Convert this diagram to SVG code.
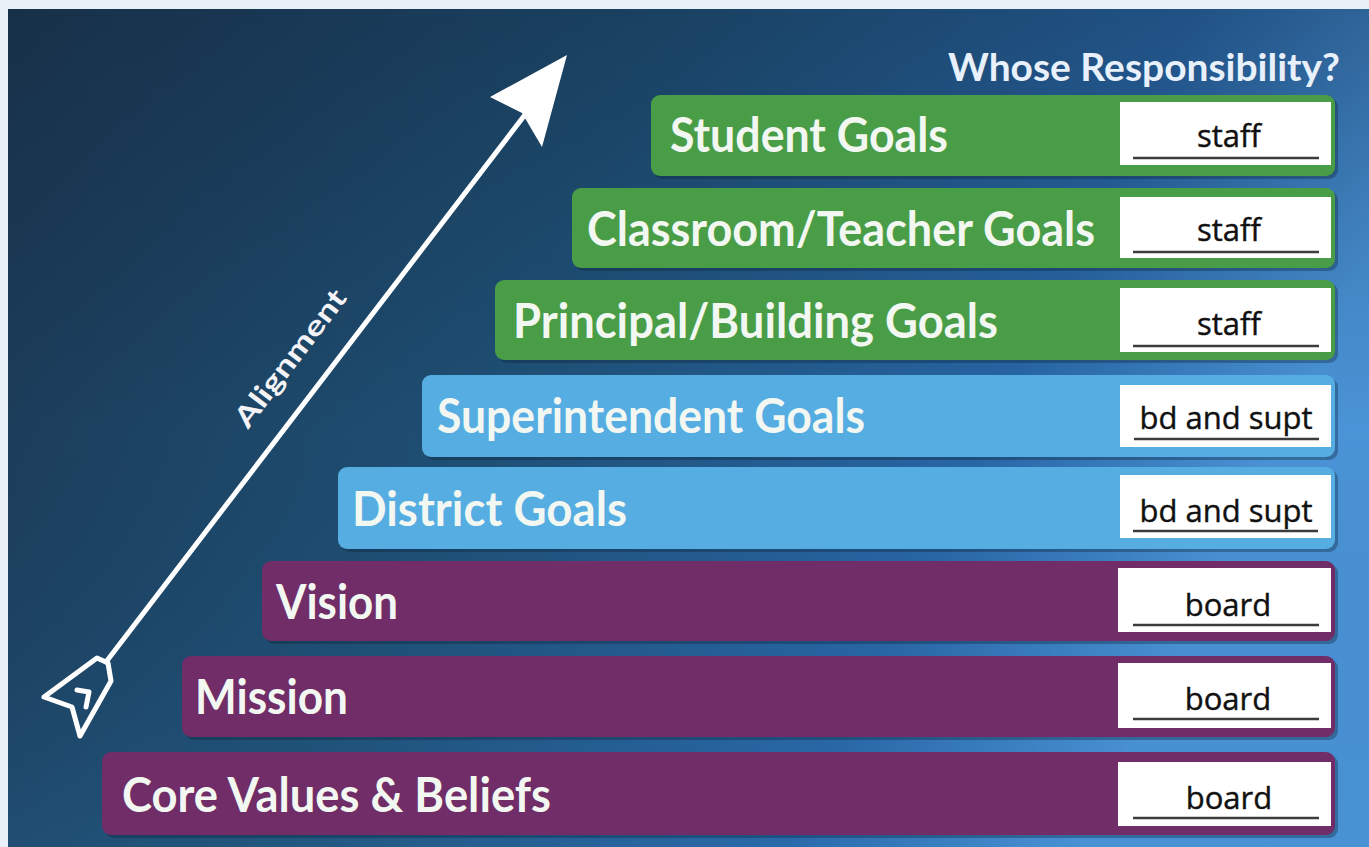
<svg xmlns="http://www.w3.org/2000/svg" width="1369" height="847" viewBox="0 0 1369 847">
<defs>
<linearGradient id="bg" x1="0" y1="0" x2="1" y2="0.3">
<stop offset="0" stop-color="#1b3650"/>
<stop offset="0.45" stop-color="#1e4f74"/>
<stop offset="0.8" stop-color="#2866a6"/>
<stop offset="1" stop-color="#4a93d6"/>
</linearGradient>
<linearGradient id="bgv" x1="0" y1="0" x2="0" y2="1">
<stop offset="0" stop-color="#0f2238" stop-opacity="0.3"/>
<stop offset="0.5" stop-color="#0f2238" stop-opacity="0"/>
<stop offset="1" stop-color="#3a8ac8" stop-opacity="0.12"/>
</linearGradient>
<style>
.green{fill:#4a9d47}
.blue{fill:#55ade2}
.purple{fill:#702d67}
.shadow{fill:#0d2236;opacity:0.35}
.box{fill:#ffffff}
.ul{stroke:#3c3c3c;stroke-width:2.5}
.lbl{font-family:Lato,"Open Sans",sans-serif;font-weight:bold;font-size:47px;fill:#f2f7f2}
.resp{font-family:"Open Sans","Liberation Sans",sans-serif;font-size:31px;fill:#111111;text-anchor:middle;stroke:#111111;stroke-width:0.4}
.hdr{font-family:Lato,"Open Sans",sans-serif;font-weight:bold;font-size:38px;fill:#e8f0fb}
.arrow{stroke:#ffffff;stroke-width:5;fill:none;stroke-linejoin:round;stroke-linecap:round}
</style>
</defs>
<rect x="0" y="0" width="1369" height="847" fill="#e9f1f8"/>
<rect x="8" y="9" width="1361" height="838" fill="url(#bg)"/>
<rect x="8" y="9" width="1361" height="838" fill="url(#bgv)"/>

<text class="hdr" x="948" y="81" textLength="392" lengthAdjust="spacingAndGlyphs">Whose Responsibility?</text>

<g id="connectors">
<line class="arrow" x1="106" y1="662" x2="524" y2="116"/>
<polygon points="567,55 490,97 522,113 542,147" fill="#ffffff"/>
<polygon class="arrow" points="97,658 108,663 111,681 80,736 72,707 44,697"/>
<polyline class="arrow" points="77,690 89,692 86,707"/>
<text x="0" y="0" transform="translate(298,364) rotate(-52.8)" text-anchor="middle" font-family="Lato,'Open Sans',sans-serif" font-weight="bold" font-size="28" fill="#f4f4f8" textLength="165" lengthAdjust="spacingAndGlyphs">Alignment</text>
</g>

<g id="student-goals">
<rect class="shadow" x="654" y="98" width="684" height="81" rx="9"/>
<rect class="green" x="651" y="95" width="684" height="81" rx="9"/>
<text class="lbl" x="670" y="152" textLength="278" lengthAdjust="spacingAndGlyphs">Student Goals</text>
<rect class="box" x="1120" y="102" width="211" height="63"/>
<line class="ul" x1="1133" y1="158" x2="1319" y2="158"/>
<text class="resp" x="1229" y="147">staff</text>
</g>

<g id="classroom-teacher-goals">
<rect class="shadow" x="575" y="191" width="763" height="80" rx="9"/>
<rect class="green" x="572" y="188" width="763" height="80" rx="9"/>
<text class="lbl" x="587" y="246" textLength="508" lengthAdjust="spacingAndGlyphs">Classroom/Teacher Goals</text>
<rect class="box" x="1120" y="197" width="211" height="61"/>
<line class="ul" x1="1133" y1="252" x2="1319" y2="252"/>
<text class="resp" x="1229" y="241">staff</text>
</g>

<g id="principal-building-goals">
<rect class="shadow" x="498" y="283" width="840" height="80" rx="9"/>
<rect class="green" x="495" y="280" width="840" height="80" rx="9"/>
<text class="lbl" x="513" y="338" textLength="485" lengthAdjust="spacingAndGlyphs">Principal/Building Goals</text>
<rect class="box" x="1120" y="288" width="211" height="64"/>
<line class="ul" x1="1133" y1="346" x2="1319" y2="346"/>
<text class="resp" x="1229" y="335">staff</text>
</g>

<g id="superintendent-goals">
<rect class="shadow" x="425" y="378" width="913" height="82" rx="9"/>
<rect class="blue" x="422" y="375" width="913" height="82" rx="9"/>
<text class="lbl" x="437" y="433" textLength="428" lengthAdjust="spacingAndGlyphs">Superintendent Goals</text>
<rect class="box" x="1120" y="385" width="211" height="62"/>
<line class="ul" x1="1134" y1="439" x2="1319" y2="439"/>
<text class="resp" x="1226" y="429" textLength="173" lengthAdjust="spacingAndGlyphs">bd and supt</text>
</g>

<g id="district-goals">
<rect class="shadow" x="341" y="470" width="997" height="82" rx="9"/>
<rect class="blue" x="338" y="467" width="997" height="82" rx="9"/>
<text class="lbl" x="352" y="526" textLength="275" lengthAdjust="spacingAndGlyphs">District Goals</text>
<rect class="box" x="1120" y="475" width="211" height="63"/>
<line class="ul" x1="1133" y1="531" x2="1318" y2="531"/>
<text class="resp" x="1226" y="522" textLength="173" lengthAdjust="spacingAndGlyphs">bd and supt</text>
</g>

<g id="vision">
<rect class="shadow" x="265" y="564" width="1073" height="80" rx="9"/>
<rect class="purple" x="262" y="561" width="1073" height="80" rx="9"/>
<text class="lbl" x="276" y="619" textLength="122" lengthAdjust="spacingAndGlyphs">Vision</text>
<rect class="box" x="1118" y="568" width="213" height="64"/>
<line class="ul" x1="1133" y1="625" x2="1319" y2="625"/>
<text class="resp" x="1228" y="616">board</text>
</g>

<g id="mission">
<rect class="shadow" x="185" y="659" width="1153" height="81" rx="9"/>
<rect class="purple" x="182" y="656" width="1153" height="81" rx="9"/>
<text class="lbl" x="195" y="714" textLength="153" lengthAdjust="spacingAndGlyphs">Mission</text>
<rect class="box" x="1118" y="663" width="213" height="65"/>
<line class="ul" x1="1133" y1="719" x2="1319" y2="719"/>
<text class="resp" x="1228" y="710">board</text>
</g>

<g id="core-values-beliefs">
<rect class="shadow" x="105" y="755" width="1233" height="83" rx="9"/>
<rect class="purple" x="102" y="752" width="1233" height="83" rx="9"/>
<text class="lbl" x="122" y="812" textLength="429" lengthAdjust="spacingAndGlyphs">Core Values &amp; Beliefs</text>
<rect class="box" x="1118" y="762" width="213" height="64"/>
<line class="ul" x1="1133" y1="818" x2="1319" y2="818"/>
<text class="resp" x="1229" y="809">board</text>
</g>
</svg>
